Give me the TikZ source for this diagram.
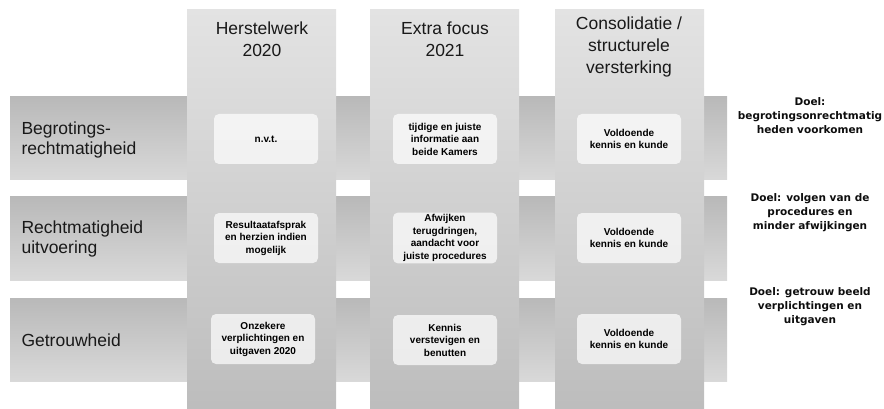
\documentclass[tikz,border=0pt]{standalone}
\usepackage{fontspec}
\setmainfont{Liberation Sans}
\newfontfamily\doelfont{DejaVu Sans}

\begin{document}
\begin{tikzpicture}[x=1pt, y=-1pt,
  rowbar/.style = {top color=gray!55, bottom color=gray!30},
  column/.style = {top color=gray!22, bottom color=gray!52},
  cell/.style = {fill=white, fill opacity=0.7, text opacity=1, rounded corners=5pt,
    minimum width=104pt, minimum height=50pt, inner sep=2pt, align=center,
    font=\fontsize{10}{12.5}\selectfont\bfseries},
  head/.style = {align=center, text=gray!20!black, font=\fontsize{17.5}{22}\selectfont},
  rowlabel/.style = {anchor=west, align=left, text=gray!20!black, font=\fontsize{17.5}{20}\selectfont},
  doel/.style = {align=center, text=gray!10!black, font=\doelfont\bfseries\fontsize{10.5}{14}\selectfont}]
\useasboundingbox (0,0) rectangle (884,409);
% bars behind
\foreach \y in {97,197,298}
  \path[rowbar] (10,\y) rectangle (727,\y+83);
\foreach \x in {187,370,555}
  \path[column] (\x,10) rectangle (\x+149,409);
% headings
\path (262,39) node[head] (H1) {Herstelwerk\\2020};
\path (445,39) node[head] (H2) {Extra focus\\2021};
\path (629,47) node[head] (H3) {Consolidatie /\\structurele\\versterking};
% rows
\path (18,140) node[rowlabel] (R1) {Begrotings-\\rechtmatigheid};
\path (18,239) node[rowlabel] (R2) {Rechtmatigheid\\uitvoering};
\path (18,340) node[rowlabel] (R3) {Getrouwheid};
% cells
\path (266,139) node[cell] (C11) {n.v.t.};
\path (445,139) node[cell] (C12) {tijdige en juiste\\informatie aan\\beide Kamers};
\path (629,139) node[cell] (C13) {Voldoende\\kennis en kunde};
\path (266,238) node[cell] (C21) {Resultaatafsprak\\en herzien indien\\mogelijk};
\path (445,238) node[cell] (C22) {Afwijken\\terugdringen,\\aandacht voor\\juiste procedures};
\path (629,238) node[cell] (C23) {Voldoende\\kennis en kunde};
\path (263,339) node[cell] (C31) {Onzekere\\verplichtingen en\\uitgaven 2020};
\path (445,340) node[cell] (C32) {Kennis\\verstevigen en\\benutten};
\path (629,339) node[cell] (C33) {Voldoende\\kennis en kunde};
% goals
\path (810,116) node[doel] (D1) {Doel:\\begrotingsonrechtmatig\\heden voorkomen};
\path (810,213) node[doel] (D2) {Doel: volgen van de\\procedures en\\minder afwijkingen};
\path (810,307) node[doel] (D3) {Doel: getrouw beeld\\verplichtingen en\\uitgaven};
\end{tikzpicture}
\end{document}
